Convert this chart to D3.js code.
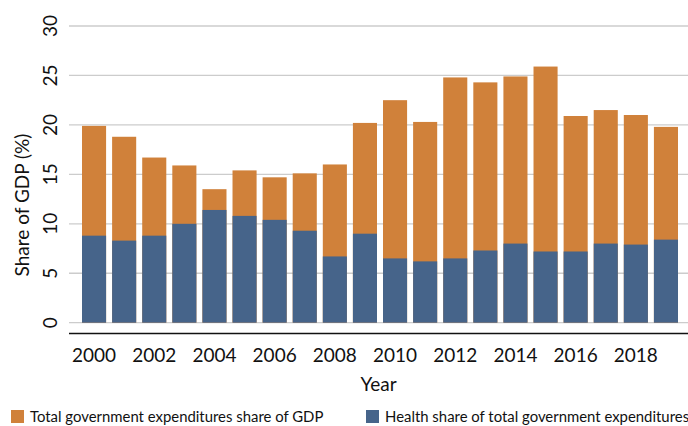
<!DOCTYPE html>
<html>
<head>
<meta charset="utf-8">
<script src="https://cdn.jsdelivr.net/npm/d3@7"></script>
<style>
  html, body { margin: 0; padding: 0; background: #fff; }
  svg { display: block; font-family: "Gill Sans", "Gill Sans MT", Lato, "Open Sans", sans-serif; }
</style>
</head>
<body>
<svg id="chart" width="688" height="426"></svg>
<script>
// Years shown on the x axis
const years = d3.range(2000, 2020);
// Total government expenditures as a share of GDP (%)
const totalShare = [19.9, 18.8, 16.7, 15.9, 13.5, 15.4, 14.7, 15.1, 16.0, 20.2,
                    22.5, 20.3, 24.8, 24.3, 24.9, 25.9, 20.9, 21.5, 21.0, 19.8];
// Health share of total government expenditures (%)
const healthShare = [8.8, 8.3, 8.8, 10.0, 11.4, 10.8, 10.4, 9.3, 6.7, 9.0,
                     6.5, 6.2, 6.5, 7.3, 8.0, 7.2, 7.2, 8.0, 7.9, 8.4];
const yTicks = [0, 5, 10, 15, 20, 25, 30];
const xTickYears = [2000, 2002, 2004, 2006, 2008, 2010, 2012, 2014, 2016, 2018];
const seriesNames = ["Total government expenditures share of GDP", "Health share of total government expenditures"];
const colors = ["#D0813A", "#46648A"];

const svg = d3.select("#chart");

const plot = { left: 69, right: 688, top: 26, bottom: 322.7 };

const x = d3.scaleBand()
  .domain(years)
  .range([79, 681])
  .paddingInner(0.2)
  .paddingOuter(0.1);

const y = d3.scaleLinear()
  .domain([0, 30])
  .range([plot.bottom, plot.top]);

// Horizontal gridlines
svg.append("g")
  .selectAll("line")
  .data(yTicks)
  .join("line")
  .attr("x1", plot.left)
  .attr("x2", plot.right)
  .attr("y1", d => y(d))
  .attr("y2", d => y(d))
  .attr("stroke", "#cccccc")
  .attr("stroke-width", 1.3);

// Y tick labels, rotated
svg.append("g")
  .selectAll("text")
  .data(yTicks)
  .join("text")
  .attr("transform", d => `translate(57,${y(d)}) rotate(-90)`)
  .attr("text-anchor", "middle")
  .attr("font-size", 19)
  .attr("fill", "#111")
  .text(d => d);

// Bars: total share drawn first, health share overlaid from the same baseline
const bars = svg.append("g");
bars.selectAll("rect.total")
  .data(years)
  .join("rect")
  .attr("class", "total")
  .attr("x", d => x(d))
  .attr("width", x.bandwidth())
  .attr("y", (d, i) => y(totalShare[i]))
  .attr("height", (d, i) => y(0) - y(totalShare[i]))
  .attr("fill", colors[0]);

bars.selectAll("rect.health")
  .data(years)
  .join("rect")
  .attr("class", "health")
  .attr("x", d => x(d))
  .attr("width", x.bandwidth())
  .attr("y", (d, i) => y(healthShare[i]))
  .attr("height", (d, i) => y(0) - y(healthShare[i]))
  .attr("fill", colors[1]);

// Bottom axis line
svg.append("line")
  .attr("x1", plot.left)
  .attr("x2", plot.right)
  .attr("y1", 333.5)
  .attr("y2", 333.5)
  .attr("stroke", "#111")
  .attr("stroke-width", 1.6);

// X tick labels
svg.append("g")
  .selectAll("text")
  .data(xTickYears)
  .join("text")
  .attr("x", d => x(d) + x.bandwidth() / 2)
  .attr("y", 362)
  .attr("text-anchor", "middle")
  .attr("font-size", 19)
  .attr("fill", "#111")
  .text(d => d);

// Axis titles
svg.append("text")
  .attr("x", (plot.left + plot.right) / 2)
  .attr("y", 391)
  .attr("text-anchor", "middle")
  .attr("font-size", 19)
  .attr("fill", "#111")
  .text("Year");

svg.append("text")
  .attr("transform", "translate(29,205) rotate(-90)")
  .attr("text-anchor", "middle")
  .attr("font-size", 19)
  .attr("fill", "#111")
  .text("Share of GDP (%)");

// Legend
const legendX = [11, 366];
const legend = svg.append("g")
  .selectAll("g")
  .data(seriesNames)
  .join("g")
  .attr("transform", (d, i) => `translate(${legendX[i]},410)`);
legend.append("rect")
  .attr("width", 13)
  .attr("height", 13)
  .attr("fill", (d, i) => colors[i]);
legend.append("text")
  .attr("x", 19)
  .attr("y", 12)
  .attr("font-size", 14.9)
  .attr("fill", "#111")
  .text(d => d);
</script>
</body>
</html>
